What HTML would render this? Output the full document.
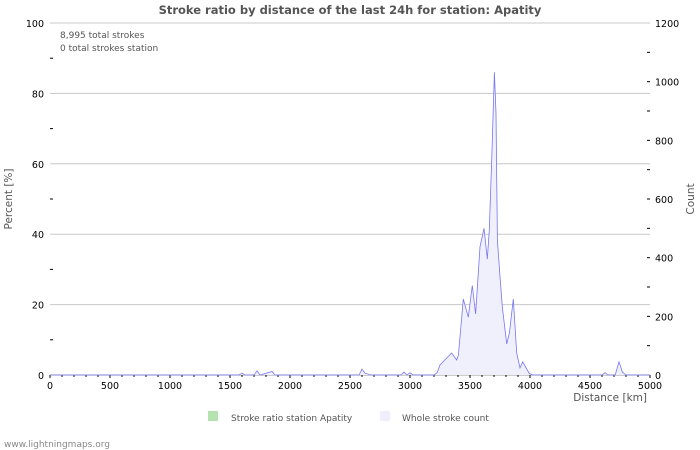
<!DOCTYPE html>
<html><head><meta charset="utf-8"><style>
body{margin:0;background:#fff;}
svg{display:block;font-family:"DejaVu Sans","Liberation Sans",sans-serif;}
</style></head><body>
<svg id="c" width="700" height="450" viewBox="0 0 700 450">
<rect width="700" height="450" fill="#fff"/>
<text x="350" y="14" text-anchor="middle" font-size="11.5" font-weight="bold" fill="#555">Stroke ratio by distance of the last 24h for station: Apatity</text>
<text x="60" y="38" font-size="9" fill="#555">8,995 total strokes</text>
<text x="60" y="51" font-size="9" fill="#555">0 total strokes station</text>
<g id="grid"></g>
<g id="axes"></g>
<path id="area" fill="#f0f0fc" stroke="none"/>
<path id="line" fill="none" stroke="#7777ee" stroke-width="0.8"/>
<text x="12" y="199" font-size="10.5" fill="#555" transform="rotate(-90 12 199)" text-anchor="middle">Percent   [%]</text>
<text x="694" y="199" font-size="10.5" fill="#555" transform="rotate(-90 694 199)" text-anchor="middle">Count</text>
<text x="647" y="401" font-size="10.5" fill="#555" text-anchor="end">Distance   [km]</text>
<g>
<rect x="208" y="411" width="10" height="10" fill="#b5e3b0"/>
<text x="231" y="421" font-size="9" fill="#555">Stroke ratio station Apatity</text>
<rect x="380" y="411" width="10" height="10" fill="#efeffc"/>
<text x="402" y="421" font-size="9" fill="#555">Whole stroke count</text>
</g>
<text x="4" y="447" font-size="9" fill="#888">www.lightningmaps.org</text>
</svg>
<script>
const distances=[0,1575,1600,1625,1700,1725,1750,1850,1875,2575,2600,2625,2675,2925,2950,2975,3000,3025,3200,3225,3250,3306,3347,3389,3403,3444,3486,3519,3547,3583,3617,3644,3661,3681,3703,3717,3728,3750,3769,3806,3828,3861,3889,3917,3939,3994,4025,4600,4625,4650,4710,4742,4770,4800,5000];
const counts=[0,0,6,0,0,14,0,12,0,0,20,6,0,0,10,0,8,0,0,7,34,58,75,51,68,259,197,305,208,437,500,395,494,733,1032,893,460,335,233,106,143,259,75,24,45,5,0,0,8,0,0,45,10,0,0];
const pctTicks=[0,20,40,60,80,100];
const cntTicks=[0,200,400,600,800,1000,1200];
const kmTicks=[0,500,1000,1500,2000,2500,3000,3500,4000,4500,5000];
const X0=50,X1=650,Y0=375,Y1=23;
const xS=d=>X0+d/5000*(X1-X0);
const yP=p=>Y0-p/100*(Y0-Y1);
const yC=c=>Y0-c/1200*(Y0-Y1);
const NS="http://www.w3.org/2000/svg";
function mk(t,a,parent,txt){const e=document.createElementNS(NS,t);for(const k in a)e.setAttribute(k,a[k]);if(txt!==undefined)e.textContent=txt;parent.appendChild(e);return e;}
const grid=document.getElementById('grid'),axes=document.getElementById('axes');
pctTicks.forEach(p=>{
 const g=mk('line',{x1:X0,x2:X1,y1:yP(p),y2:yP(p),stroke:p===0?'#999':'#c8c8c8','stroke-width':1},grid);
 
 
 const t=mk('text',{x:X0-6,y:yP(p)+4,'font-size':9.5,'text-anchor':'end',fill:'#000'},axes,String(p));
 
 
});
for(let p=10;p<100;p+=20){mk('line',{x1:X0,x2:X0+3,y1:yP(p),y2:yP(p),stroke:'#000'},axes);}
cntTicks.forEach(c=>{
 const t=mk('text',{x:X1+5,y:yC(c)+4,'font-size':9.5,fill:'#000'},axes,String(c));
 
 
});
for(let c=100;c<1200;c+=100){mk('line',{x1:X1-3,x2:X1,y1:yC(c),y2:yC(c),stroke:'#000'},axes);}
for(let d=0;d<=5000;d+=100){mk('line',{x1:xS(d),x2:xS(d),y1:Y0,y2:Y0+(d%500===0?3:2),stroke:'#000'},axes);}
kmTicks.forEach(d=>{
 const t=mk('text',{x:xS(d),y:Y0+14,'font-size':9.5,'text-anchor':'middle',fill:'#000'},axes,String(d));
 
 
});
let pts=distances.map((d,i)=>xS(d).toFixed(1)+','+yC(counts[i]).toFixed(1));
document.getElementById('line').setAttribute('d','M'+pts.join('L'));
document.getElementById('area').setAttribute('d','M'+xS(distances[0])+','+Y0+'L'+pts.join('L')+'L'+xS(distances[distances.length-1])+','+Y0+'Z');
</script>
</body></html>
